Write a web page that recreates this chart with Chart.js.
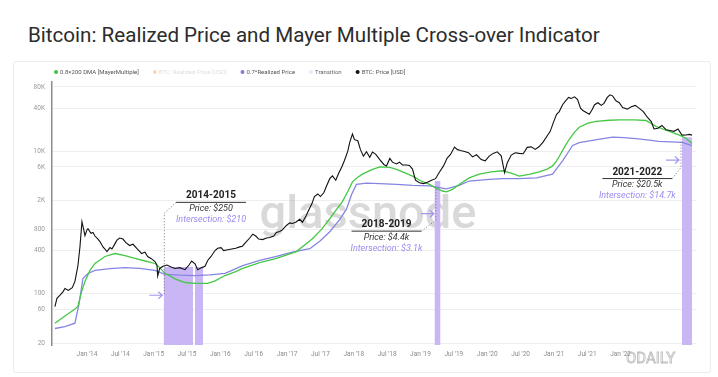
<!DOCTYPE html>
<html lang="en">
<head>
<meta charset="UTF-8">
<title>Bitcoin: Realized Price and Mayer Multiple Cross-over Indicator</title>
<script src="https://cdn.jsdelivr.net/npm/chart.js"></script>
<style>
  body { margin: 0; background: #fff; font-family: Roboto, "Noto Sans", sans-serif; }
  h1 { position: absolute; left: 28px; top: 23px; margin: 0; font-size: 20.6px; font-weight: 400; color: #2c2c2c; white-space: nowrap; }
  .card { position: absolute; left: 13px; top: 61px; width: 698px; height: 312px; border: 1px solid #ececec; border-radius: 3px; box-sizing: border-box; }
  .card canvas { position: absolute; left: 0; top: 0; }
</style>
</head>
<body>
<h1>Bitcoin: Realized Price and Mayer Multiple Cross-over Indicator</h1>
<div class="card"><canvas id="chart" width="696" height="310"></canvas></div>

<script>
// BTC price (decimal year, USD)
const priceDates = [2013.52, 2013.55, 2013.60, 2013.64, 2013.67, 2013.72, 2013.78, 2013.82, 2013.865, 2013.895, 2013.925, 2013.955, 2013.97,
  2014.00, 2014.015, 2014.06, 2014.09, 2014.12, 2014.165, 2014.195, 2014.24, 2014.27, 2014.30, 2014.345, 2014.375, 2014.42, 2014.45, 2014.49,
  2014.54, 2014.58, 2014.64, 2014.69, 2014.75, 2014.79, 2014.82, 2014.87, 2014.91, 2014.96, 2015.02, 2015.05, 2015.06, 2015.09, 2015.14,
  2015.20, 2015.26, 2015.32, 2015.39, 2015.47, 2015.53, 2015.57, 2015.62, 2015.66, 2015.72, 2015.77, 2015.81, 2015.86, 2015.92, 2015.96,
  2016.01, 2016.05, 2016.11, 2016.17, 2016.23, 2016.29, 2016.33, 2016.38, 2016.44, 2016.485, 2016.53, 2016.575, 2016.635, 2016.69, 2016.74,
  2016.80, 2016.84, 2016.89, 2016.93, 2016.99, 2017.04, 2017.08, 2017.13, 2017.19, 2017.23, 2017.28, 2017.32, 2017.37, 2017.41, 2017.46,
  2017.50, 2017.55, 2017.59, 2017.64, 2017.68, 2017.73, 2017.77, 2017.82, 2017.86, 2017.91, 2017.94, 2017.98, 2018.01, 2018.06, 2018.10,
  2018.145, 2018.19, 2018.24, 2018.28, 2018.33, 2018.39, 2018.45, 2018.49, 2018.54, 2018.58, 2018.64, 2018.685, 2018.73, 2018.79, 2018.835,
  2018.88, 2018.925, 2018.985, 2019.045, 2019.105, 2019.165, 2019.225, 2019.285, 2019.345, 2019.40, 2019.45, 2019.51, 2019.555, 2019.60,
  2019.66, 2019.72, 2019.78, 2019.84, 2019.91, 2019.97, 2020.03, 2020.09, 2020.15, 2020.21, 2020.26, 2020.30, 2020.36, 2020.42, 2020.48,
  2020.54, 2020.60, 2020.66, 2020.72, 2020.78, 2020.84, 2020.90, 2020.945, 2020.99, 2021.04, 2021.08, 2021.13, 2021.175, 2021.22, 2021.26,
  2021.31, 2021.355, 2021.40, 2021.44, 2021.485, 2021.53, 2021.57, 2021.61, 2021.66, 2021.71, 2021.75, 2021.80, 2021.84, 2021.88, 2021.93,
  2021.98, 2022.03, 2022.10, 2022.16, 2022.22, 2022.28, 2022.34, 2022.40, 2022.46, 2022.50, 2022.56, 2022.62, 2022.68, 2022.74, 2022.80,
  2022.86, 2022.92, 2022.98, 2023.03, 2023.07];
const priceValues = [65, 85, 95, 105, 117, 110, 120, 147, 246, 450, 1017, 760, 648,
  780, 811, 700, 720, 640, 580, 535, 450, 420, 387, 440, 420, 500, 560, 600,
  580, 520, 470, 490, 425, 390, 363, 380, 330, 310, 280, 250, 175, 224, 240,
  250, 235, 224, 230, 215, 250, 285, 260, 215, 230, 240, 290, 330, 400, 430,
  440, 400, 410, 420, 430, 450, 460, 520, 600, 680, 640, 580, 570, 600, 610,
  640, 720, 740, 780, 900, 980, 960, 1000, 1100, 1000, 1200, 1450, 1800, 2300, 2500,
  2300, 2600, 3200, 4100, 4480, 3900, 4800, 6000, 7400, 10000, 13400, 17400, 14500, 14000, 10500,
  8500, 9800, 8200, 9700, 9000, 7600, 6500, 6200, 7900, 7000, 6600, 7000, 6400, 6400, 6300,
  5600, 3900, 3600, 3500, 3650, 3900, 4100, 5100, 6200, 8000, 9000, 11400, 10500, 10200,
  9900, 9500, 8300, 8900, 7600, 7300, 8500, 9300, 9800, 8600, 5000, 6800, 8800, 9500, 9300,
  9200, 11300, 11500, 10600, 11600, 13500, 16500, 19000, 25000, 33000, 36000, 45000, 51000, 57000, 55000,
  58000, 53000, 40000, 37000, 35000, 33000, 38000, 45000, 48000, 44000, 47000, 57000, 62000, 60000, 51000,
  48000, 41000, 39000, 42000, 44000, 40000, 36000, 30000, 26000, 20500, 21000, 23000, 20000, 19500, 19000,
  20500, 16800, 16900, 17200, 16800];

// 0.8 x 200 DMA (Mayer Multiple)
const mayerDates = [2013.52, 2013.67, 2013.82, 2013.865, 2013.925, 2013.97, 2014.045, 2014.12, 2014.27, 2014.42, 2014.57, 2014.72,
  2014.87, 2015.02, 2015.09, 2015.17, 2015.32, 2015.47, 2015.62, 2015.81, 2015.92, 2016.07, 2016.22, 2016.335, 2016.59, 2016.84,
  2017.14, 2017.38, 2017.52, 2017.64, 2017.74, 2017.83, 2017.91, 2017.98, 2018.06, 2018.13, 2018.27, 2018.39, 2018.54, 2018.64,
  2018.76, 2018.88, 2019.01, 2019.135, 2019.24, 2019.33, 2019.39, 2019.48, 2019.58, 2019.73, 2019.88, 2020.06, 2020.23, 2020.36,
  2020.48, 2020.63, 2020.78, 2020.90, 2020.98, 2021.04, 2021.08, 2021.16, 2021.23, 2021.31, 2021.38, 2021.50, 2021.63, 2021.83,
  2021.98, 2022.21, 2022.38, 2022.53, 2022.66, 2022.77, 2022.88, 2022.98, 2023.07];
const mayerValues = [38, 48, 60, 66, 110, 147, 210, 263, 330, 363, 340, 310,
  285, 263, 230, 191, 160, 142, 138, 138, 150, 178, 200, 224, 270, 310,
  387, 587, 800, 1120, 1500, 1950, 2700, 3700, 4300, 4750, 5500, 6000, 5900, 5550,
  5000, 4450, 3800, 3400, 3000, 2750, 2670, 2900, 3400, 4200, 4750, 5100, 5300, 4900,
  4450, 4700, 5100, 5600, 6200, 7300, 8400, 11500, 14700, 18500, 21700, 24500, 26300, 27200,
  27500, 27500, 27000, 22300, 20000, 18400, 16800, 15200, 12800];

// 0.7 x Realized Price
const realDates = [2013.52, 2013.67, 2013.82, 2013.88, 2013.94, 2014.015, 2014.12, 2014.345, 2014.57, 2014.79, 2015.02, 2015.17,
  2015.39, 2015.62, 2015.84, 2016.07, 2016.335, 2016.59, 2016.84, 2017.08, 2017.34, 2017.49, 2017.64, 2017.79, 2017.89, 2017.97,
  2018.04, 2018.19, 2018.39, 2018.64, 2018.88, 2019.135, 2019.39, 2019.58, 2019.73, 2020.03, 2020.23, 2020.48, 2020.74, 2020.98,
  2021.05, 2021.13, 2021.21, 2021.28, 2021.38, 2021.49, 2021.69, 2021.88, 2022.05, 2022.23, 2022.43, 2022.57, 2022.76, 2022.92, 2023.07];
const realValues = [32, 34, 38, 70, 162, 190, 210, 222, 230, 225, 210, 185,
  180, 178, 182, 191, 246, 290, 330, 380, 425, 540, 735, 1100, 1530, 2500,
  3400, 3550, 3500, 3400, 3300, 3250, 2950, 3300, 3800, 4000, 4100, 4100, 4200, 4750,
  5800, 7300, 9500, 12000, 13200, 13700, 14800, 15700, 15500, 15000, 14300, 13700, 13500, 13300, 12000];

// Transition windows (start, end, level)
const transStart = [2015.15, 2015.62, 2019.21, 2022.92];
const transEnd = [2015.59, 2015.74, 2019.30, 2023.07];
const transLevel = [235, 235, 3800, 15700];

// axes
const xTickYears = [2014, 2014.5, 2015, 2015.5, 2016, 2016.5, 2017, 2017.5, 2018, 2018.5, 2019, 2019.5, 2020, 2020.5, 2021, 2021.5, 2022];
const xTickLabels = ["Jan '14", "Jul '14", "Jan '15", "Jul '15", "Jan '16", "Jul '16", "Jan '17", "Jul '17", "Jan '18", "Jul '18",
  "Jan '19", "Jul '19", "Jan '20", "Jul '20", "Jan '21", "Jul '21", "Jan '22"];
const yTicks = [20, 60, 100, 400, 800, 2000, 6000, 10000, 40000, 80000];
const yTickLabels = ['20', '60', '100', '400', '800', '2K', '6K', '10K', '40K', '80K'];

// annotations
const annoTitles = ['2014-2015', '2018-2019', '2021-2022'];
const annoPrices = ['Price: $250', 'Price: $4.4k', 'Price: $20.5k'];
const annoInters = ['Intersection: $210', 'Intersection: $3.1k', 'Intersection: $14.7k'];
const annoAt = [2015.86, 2018.49, 2022.25];
const annoLevel = [2350, 925, 5080];
const connX = [2015.16, 2019.23, 2022.905];
const connEnd = [94, 3140, 14700];
const arrowAt = [94, 1318, 7500];

const legendItems = [
  { text: '0.8×200 DMA [MayerMultiple]', dot: '#3cc43c', color: '#555' },
  { text: 'BTC: Realized Price [USD]', dot: 'rgba(247,147,26,0.35)', color: '#dedede' },
  { text: '0.7*Realized Price', dot: '#7f7fe0', color: '#555' },
  { text: 'Transition', dot: '#ece6fb', color: '#666' },
  { text: 'BTC: Price [USD]', dot: '#111', color: '#555' }
];

const FONT = 'Roboto, "Noto Sans", sans-serif';
const pts = (xs, ys) => xs.map((x, i) => ({ x: x, y: ys[i] }));

const transData = [];
transStart.forEach((s, i) => {
  transData.push({ x: s, y: transLevel[i] }, { x: transEnd[i], y: transLevel[i] }, { x: transEnd[i], y: null });
});

// legend, watermark and the text boxes
const extras = {
  id: 'extras',
  beforeDatasetsDraw(chart) {
    const ctx = chart.ctx;
    ctx.save();
    ctx.font = '500 47px ' + FONT;
    ctx.fillStyle = 'rgba(150,150,150,0.36)';
    ctx.textAlign = 'center';
    ctx.textBaseline = 'alphabetic';
    ctx.fillText('glassnode', 354, 166);
    ctx.restore();
  },
  afterDatasetsDraw(chart) {
    const ctx = chart.ctx;
    const xs = chart.scales.x, ys = chart.scales.y;
    ctx.save();
    annoTitles.forEach((t, i) => {
      const cx = xs.getPixelForValue(annoAt[i]);
      const ty = ys.getPixelForValue(annoLevel[i]);
      ctx.textAlign = 'center';
      ctx.textBaseline = 'middle';
      ctx.font = 'bold 10px ' + FONT;
      ctx.fillStyle = '#222';
      ctx.fillText(t, cx, ty);
      const uw = ctx.measureText(t).width + 20;
      ctx.font = 'italic 9px ' + FONT;
      ctx.fillStyle = '#333';
      ctx.fillText(annoPrices[i], cx, ty + 13);
      ctx.fillStyle = '#9b8cf0';
      ctx.fillText(annoInters[i], cx, ty + 24);
      // underline
      ctx.strokeStyle = '#333';
      ctx.lineWidth = 1;
      ctx.beginPath();
      ctx.moveTo(cx - uw / 2, ty + 6.5);
      ctx.lineTo(cx + uw / 2, ty + 6.5);
      ctx.stroke();
      // dotted connector
      const px = xs.getPixelForValue(connX[i]);
      const ey = ys.getPixelForValue(connEnd[i]);
      const sx = i === 0 ? cx - uw / 2 : cx + uw / 2;
      const sy = ty + 6.5;
      const dir = ey > sy ? 1 : -1;
      ctx.strokeStyle = '#777';
      ctx.setLineDash([1, 2]);
      ctx.beginPath();
      ctx.moveTo(sx, sy);
      ctx.lineTo(px, sy + dir * 11);
      ctx.lineTo(px, ey);
      ctx.stroke();
      ctx.setLineDash([]);
      // arrow
      const ay = ys.getPixelForValue(arrowAt[i]);
      ctx.strokeStyle = '#a597ee';
      ctx.lineWidth = 1.2;
      ctx.beginPath();
      ctx.moveTo(px - 15, ay);
      ctx.lineTo(px - 2, ay);
      ctx.moveTo(px - 6, ay - 3.5);
      ctx.lineTo(px - 2, ay);
      ctx.lineTo(px - 6, ay + 3.5);
      ctx.stroke();
    });
    ctx.restore();
  },
  afterDraw(chart) {
    const ctx = chart.ctx;
    ctx.save();
    ctx.font = '6px ' + FONT;
    ctx.textBaseline = 'middle';
    ctx.textAlign = 'left';
    let x = 42;
    const y = 10;
    legendItems.forEach(it => {
      ctx.fillStyle = it.dot;
      ctx.beginPath();
      ctx.arc(x, y, 2, 0, Math.PI * 2);
      ctx.fill();
      ctx.fillStyle = it.color;
      ctx.fillText(it.text, x + 4, y);
      x += 4 + ctx.measureText(it.text).width + 16;
    });
    // corner watermark
    ctx.font = '15px ' + FONT;
    ctx.strokeStyle = 'rgba(160,160,160,0.7)';
    ctx.lineWidth = 0.8;
    ctx.strokeText('ODAILY', 612, 297);
    ctx.restore();
  }
};

new Chart(document.getElementById('chart'), {
  type: 'line',
  data: {
    datasets: [
      { label: 'BTC: Price [USD]', data: pts(priceDates, priceValues), borderColor: '#111', borderWidth: 1.1 },
      { label: '0.8×200 DMA [MayerMultiple]', data: pts(mayerDates, mayerValues), borderColor: '#45c845', borderWidth: 1.3 },
      { label: '0.7*Realized Price', data: pts(realDates, realValues), borderColor: '#8585e2', borderWidth: 1.3 },
      { label: 'Transition', data: transData, borderWidth: 0, borderColor: 'rgba(0,0,0,0)',
        backgroundColor: '#c9b6f5', fill: 'start', spanGaps: false }
    ]
  },
  options: {
    responsive: false,
    animation: false,
    elements: { point: { radius: 0 }, line: { tension: 0 } },
    layout: { padding: { top: 20, right: 14, bottom: 6, left: 0 } },
    plugins: { legend: { display: false }, tooltip: { enabled: false } },
    scales: {
      x: {
        type: 'linear',
        min: 2013.476,
        max: 2023.13,
        grid: { display: false, drawTicks: false },
        border: { display: false },
        afterBuildTicks: s => { s.ticks = xTickYears.map(v => ({ value: v })); },
        afterFit: s => { s.height = 21; },
        ticks: {
          padding: 5,
          autoSkip: false,
          maxRotation: 0,
          color: '#8a8a8a',
          font: { size: 6.5, family: FONT },
          callback: (v, i) => xTickLabels[i]
        }
      },
      y: {
        type: 'logarithmic',
        min: 18.76,
        max: 93900,
        grid: { color: '#eeeeee', drawTicks: false },
        border: { display: true, color: '#8c8c8c', width: 1.5 },
        afterBuildTicks: s => { s.ticks = yTicks.map(v => ({ value: v })); },
        afterFit: s => { s.width = 38; },
        ticks: {
          padding: 7,
          color: '#9a9a9a',
          font: { size: 6.5, family: FONT },
          callback: (v, i) => yTickLabels[i]
        }
      }
    }
  },
  plugins: [extras]
});
</script>
</body>
</html>
